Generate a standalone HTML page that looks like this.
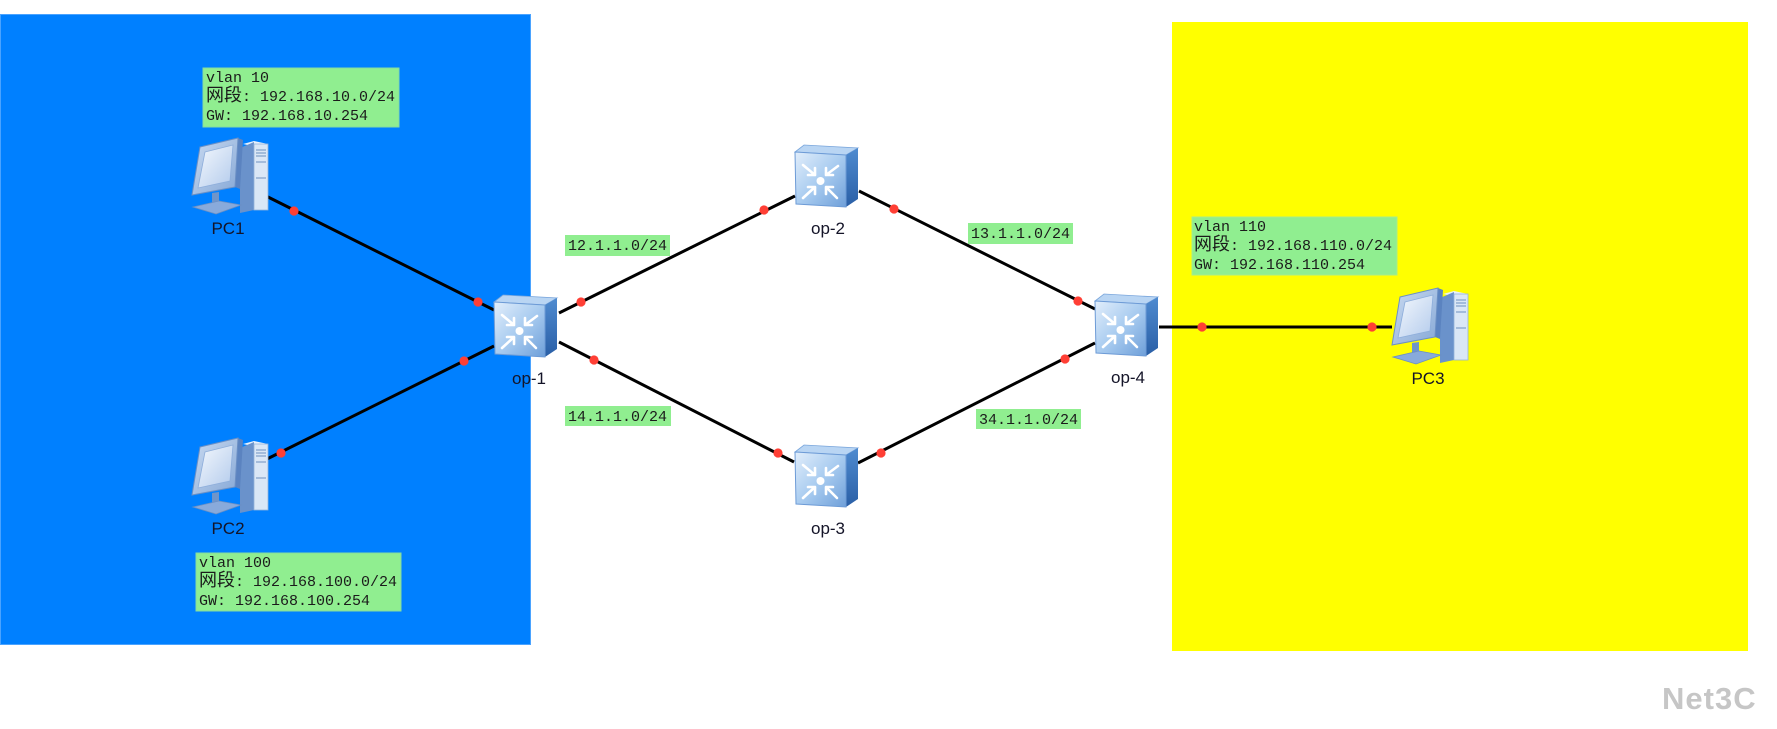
<!DOCTYPE html>
<html>
<head>
<meta charset="utf-8">
<style>
html,body{margin:0;padding:0;background:#fff;}
body{width:1777px;height:729px;overflow:hidden;}
svg{display:block;}
.mono{font-family:"Liberation Mono","Noto Sans CJK SC",monospace;font-size:15px;fill:#1b1b1b;}
.cjk{font-family:"Liberation Sans","Noto Sans CJK SC",sans-serif;font-size:18px;}
.lbl{font-family:"Liberation Sans",Arial,sans-serif;font-size:17px;fill:#141428;text-anchor:middle;}
</style>
</head>
<body>
<svg width="1777" height="729" viewBox="0 0 1777 729" xmlns="http://www.w3.org/2000/svg">
<defs>
  <linearGradient id="swFront" x1="0" y1="0" x2="1" y2="1">
    <stop offset="0" stop-color="#e2eefb"/>
    <stop offset="0.5" stop-color="#a9ccf0"/>
    <stop offset="1" stop-color="#6e9fd9"/>
  </linearGradient>
  <linearGradient id="swRight" x1="0" y1="0" x2="0" y2="1">
    <stop offset="0" stop-color="#4f8bd0"/>
    <stop offset="1" stop-color="#2a5fa6"/>
  </linearGradient>
  <linearGradient id="scr" x1="0" y1="0" x2="1" y2="1">
    <stop offset="0" stop-color="#f4f8fd"/>
    <stop offset="1" stop-color="#b3cbec"/>
  </linearGradient>
  <linearGradient id="bez" x1="0" y1="0" x2="1" y2="1">
    <stop offset="0" stop-color="#c9daf1"/>
    <stop offset="1" stop-color="#86a8d6"/>
  </linearGradient>
  <g id="sw">
    <polygon points="0,8 9,1 63,4 51,11" fill="#b9d5f3" stroke="#7aa6dc" stroke-width="0.8"/>
    <polygon points="51,11 63,4 63,55 51,63" fill="url(#swRight)"/>
    <polygon points="0,8 51,11 51,63 1,60" fill="url(#swFront)" stroke="#6d9bd6" stroke-width="1"/>
    <g stroke="#ffffff" stroke-width="2.6" fill="none" stroke-linecap="round" stroke-linejoin="round">
      <path d="M8,21 L20,31 M20,24 L20,31 L13,31"/>
      <path d="M43,22 L31,31 M31,24 L31,31 L38,31"/>
      <path d="M8,54 L20,43 M13,43 L20,43 L20,50"/>
      <path d="M42,54 L31,43 M38,43 L31,43 L31,50"/>
    </g>
    <circle cx="25.5" cy="37" r="4" fill="#ffffff"/>
  </g>
  <g id="pc">
    <polygon points="55,6 66,3 80,6 69,9" fill="#e9f1fb"/>
    <polygon points="52,10 66,4 66,72 52,75" fill="#6a92cb"/>
    <rect x="66" y="6" width="14" height="66" fill="#dae7f6" stroke="#93b2da" stroke-width="0.8"/>
    <g stroke="#7f9fc9" stroke-width="1.2">
      <line x1="68" y1="12" x2="78" y2="12"/>
      <line x1="68" y1="15" x2="78" y2="15"/>
      <line x1="68" y1="18" x2="78" y2="18"/>
      <line x1="68" y1="24" x2="78" y2="24"/>
      <line x1="68" y1="40" x2="78" y2="40"/>
    </g>
    <polygon points="24,55 31,54 31,67 24,68" fill="#6f95c9"/>
    <polygon points="5,69 31,63 53,67 28,76" fill="#88aadb" stroke="#6a8fc4" stroke-width="0.8"/>
    <polygon points="50,0 55,2 52,51 47,49" fill="#5b83c0"/>
    <polygon points="12,9 50,0 47,49 4,57" fill="url(#bez)" stroke="#6c90c5" stroke-width="1"/>
    <polygon points="17,14 45,7 42,43 10,50" fill="url(#scr)" stroke="#8eaedb" stroke-width="0.8"/>
  </g>
</defs>

<!-- zones -->
<rect x="0" y="14" width="531" height="631" fill="#0080ff"/>
<rect x="0.5" y="14.5" width="530" height="630" fill="none" stroke="#4aa3ff" stroke-width="1"/>
<rect x="1172" y="22" width="576" height="629" fill="#ffff00"/>

<!-- connectors -->
<g stroke="#000" stroke-width="3" stroke-linecap="butt">
  <line x1="266" y1="196" x2="494" y2="310"/>
  <line x1="267" y1="459" x2="494" y2="346"/>
  <line x1="559" y1="313" x2="795" y2="196"/>
  <line x1="559" y1="342" x2="794" y2="462"/>
  <line x1="859" y1="191" x2="1095" y2="309"/>
  <line x1="858" y1="463" x2="1095" y2="343"/>
  <line x1="1159" y1="327" x2="1392" y2="327"/>
</g>

<!-- ports -->
<g fill="#ff3f35">
  <circle cx="294" cy="211" r="4.6"/>
  <circle cx="478" cy="302" r="4.6"/>
  <circle cx="281" cy="453" r="4.6"/>
  <circle cx="464" cy="361" r="4.6"/>
  <circle cx="581" cy="302" r="4.6"/>
  <circle cx="764" cy="210" r="4.6"/>
  <circle cx="594" cy="360" r="4.6"/>
  <circle cx="778" cy="453" r="4.6"/>
  <circle cx="894" cy="209" r="4.6"/>
  <circle cx="1078" cy="301" r="4.6"/>
  <circle cx="881" cy="453" r="4.6"/>
  <circle cx="1065" cy="359" r="4.6"/>
  <circle cx="1202" cy="327" r="4.6"/>
  <circle cx="1372" cy="327" r="4.6"/>
</g>

<!-- devices -->
<use href="#pc" x="188" y="138"/>
<use href="#pc" x="188" y="438"/>
<use href="#pc" x="1388" y="288"/>
<use href="#sw" x="494" y="294"/>
<use href="#sw" x="795" y="144"/>
<use href="#sw" x="795" y="444"/>
<use href="#sw" x="1095" y="293"/>

<!-- device labels -->
<text class="lbl" x="228" y="234">PC1</text>
<text class="lbl" x="228" y="534">PC2</text>
<text class="lbl" x="1428" y="384">PC3</text>
<text class="lbl" x="529" y="384">op-1</text>
<text class="lbl" x="828" y="234">op-2</text>
<text class="lbl" x="828" y="534">op-3</text>
<text class="lbl" x="1128" y="383">op-4</text>

<!-- vlan info boxes -->
<rect x="203" y="68" width="196" height="59" fill="#90ee90" stroke="#86dca0" stroke-width="1"/>
<text class="mono" x="206" y="82">vlan 10</text>
<text class="mono" x="206" y="101"><tspan class="cjk">网段</tspan>: 192.168.10.0/24</text>
<text class="mono" x="206" y="120">GW: 192.168.10.254</text>

<rect x="196" y="553" width="205" height="58" fill="#90ee90" stroke="#86dca0" stroke-width="1"/>
<text class="mono" x="199" y="567">vlan 100</text>
<text class="mono" x="199" y="586"><tspan class="cjk">网段</tspan>: 192.168.100.0/24</text>
<text class="mono" x="199" y="605">GW: 192.168.100.254</text>

<rect x="1192" y="217" width="205" height="58" fill="#90ee90" stroke="#a8ec88" stroke-width="1"/>
<text class="mono" x="1194" y="231">vlan 110</text>
<text class="mono" x="1194" y="250"><tspan class="cjk">网段</tspan>: 192.168.110.0/24</text>
<text class="mono" x="1194" y="269">GW: 192.168.110.254</text>

<!-- link labels -->
<rect x="565" y="235" width="105" height="21" fill="#90ee90"/>
<text class="mono" x="568" y="250">12.1.1.0/24</text>
<rect x="968" y="223" width="105" height="21" fill="#90ee90"/>
<text class="mono" x="971" y="238">13.1.1.0/24</text>
<rect x="565" y="406" width="106" height="20" fill="#90ee90"/>
<text class="mono" x="568" y="421">14.1.1.0/24</text>
<rect x="976" y="409" width="105" height="20" fill="#90ee90"/>
<text class="mono" x="979" y="424">34.1.1.0/24</text>

<!-- watermark -->
<text x="1662" y="709" font-family="Liberation Sans, Arial, sans-serif" font-weight="bold" font-size="31" fill="#c6c6c6" letter-spacing="1">Net3C</text>
</svg>
</body>
</html>
